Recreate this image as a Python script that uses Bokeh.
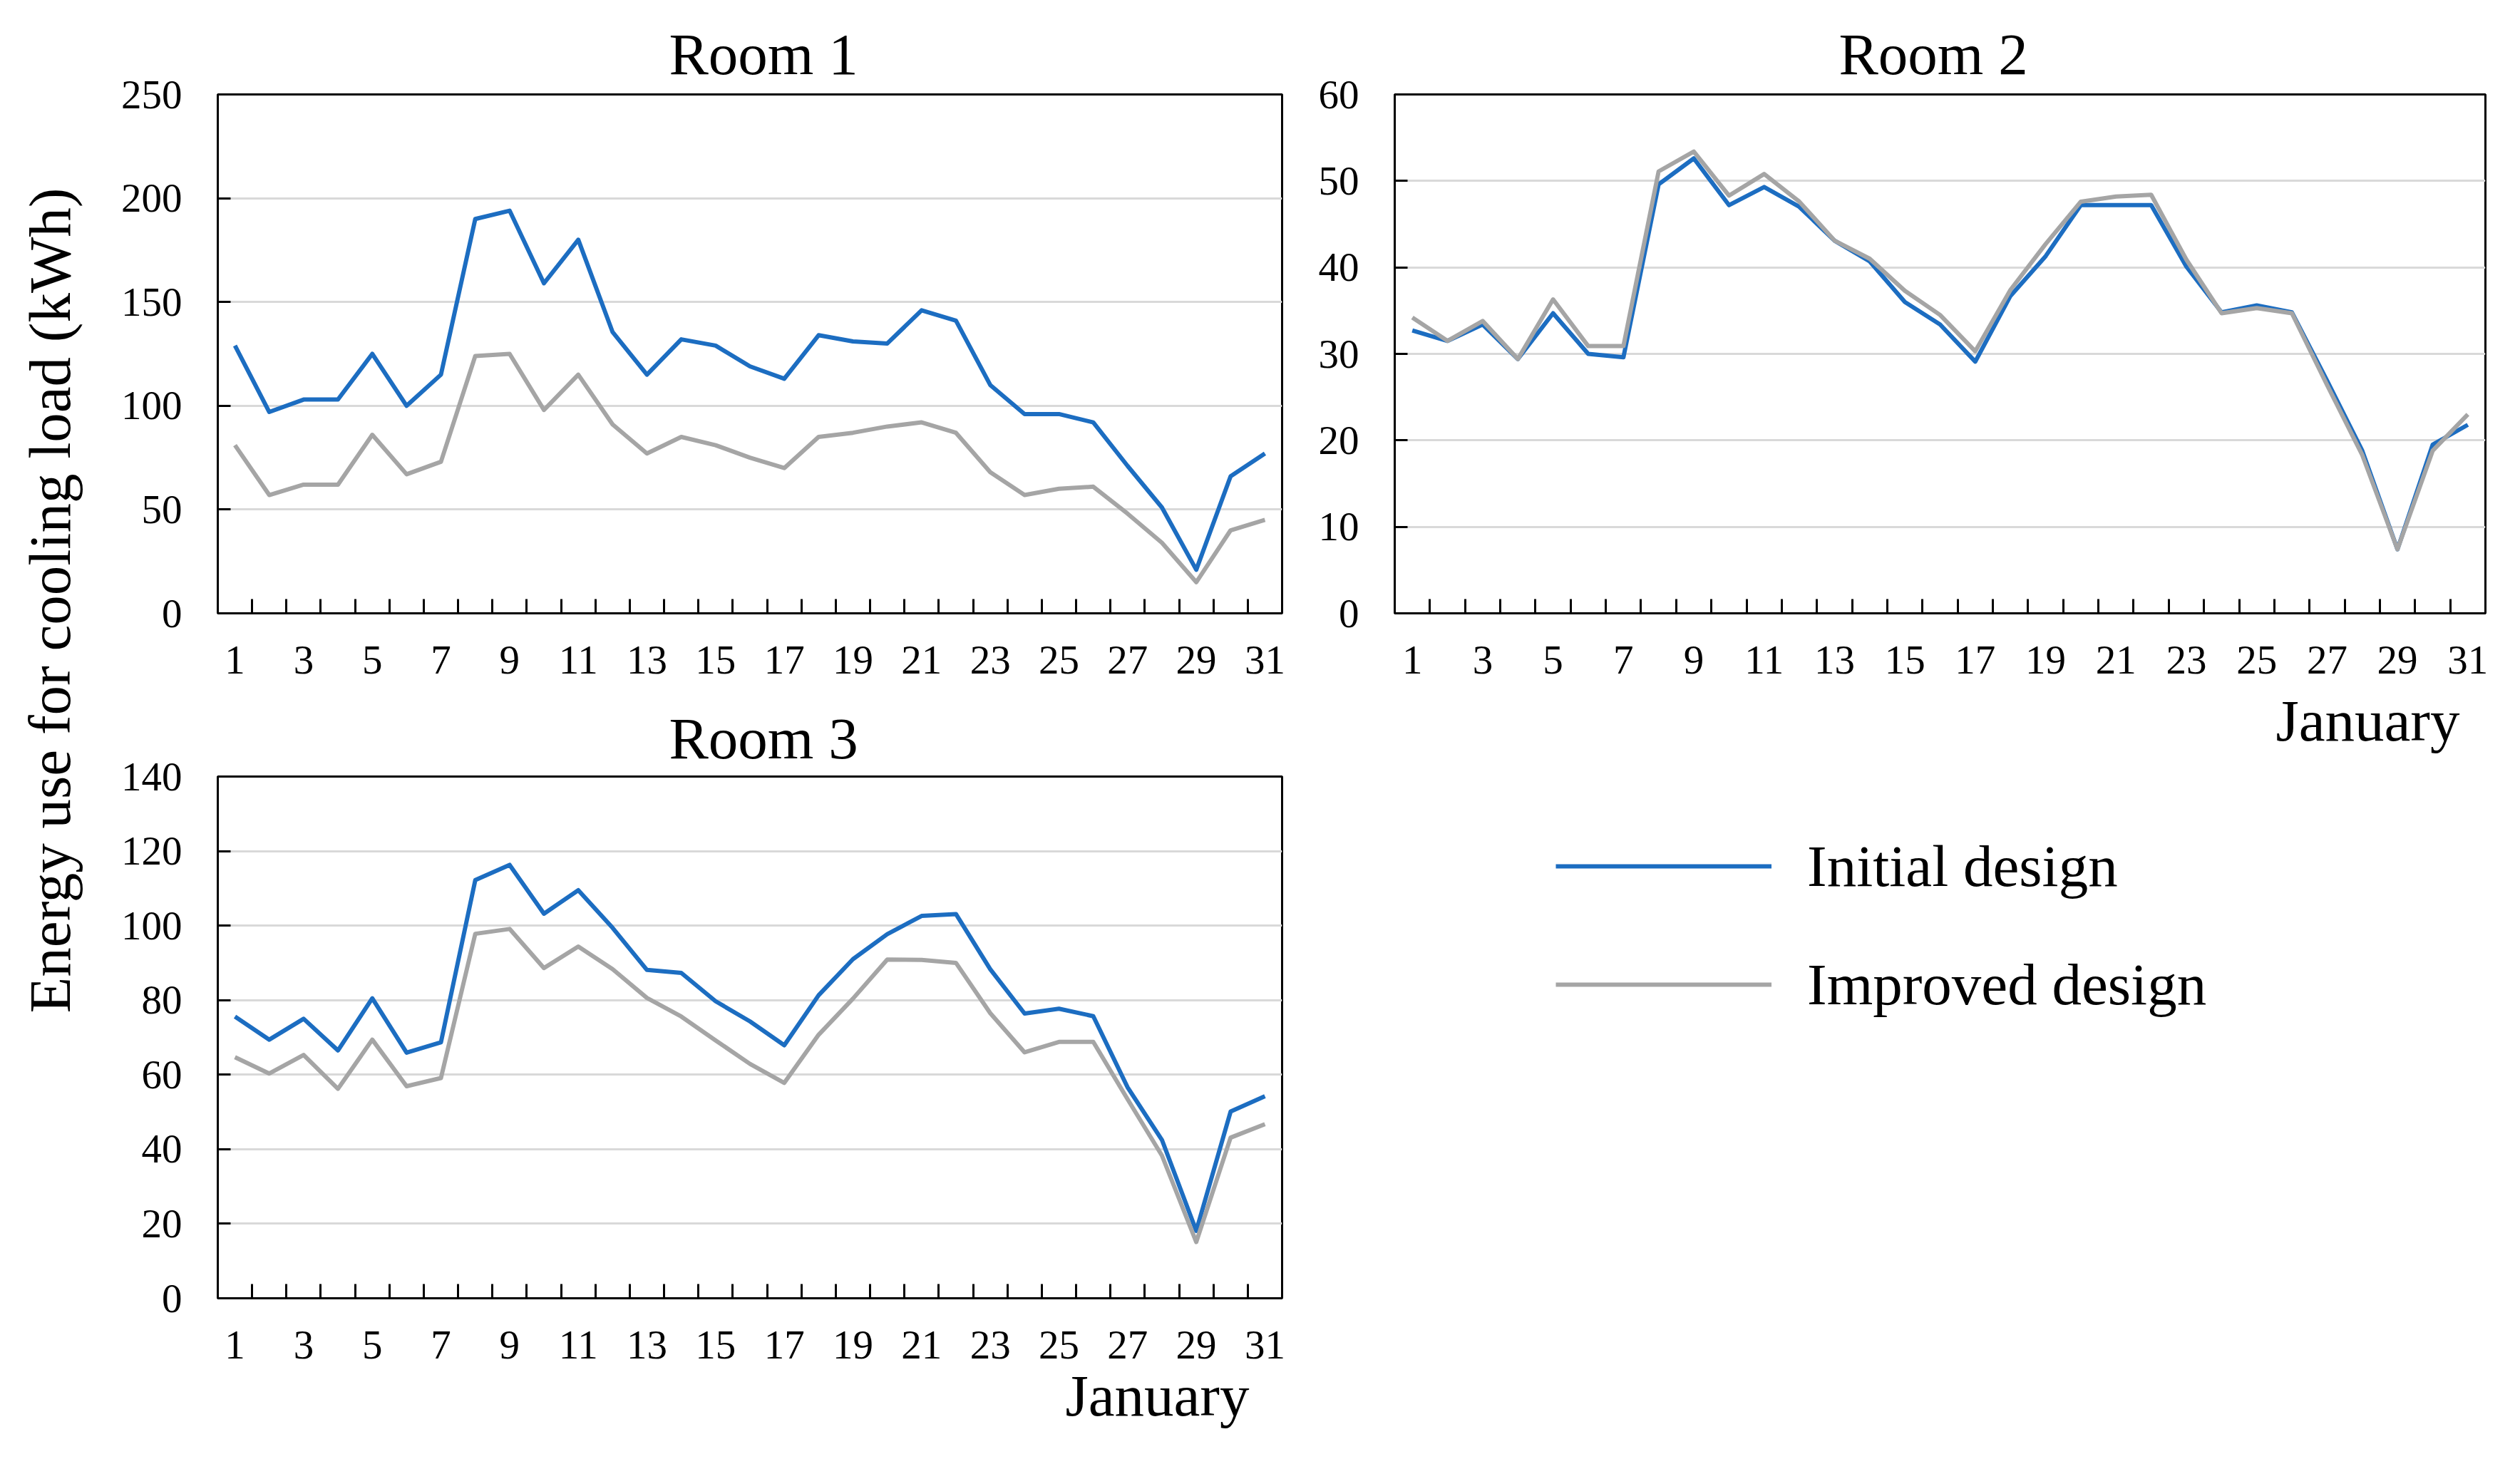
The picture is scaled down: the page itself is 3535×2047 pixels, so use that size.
from bokeh.plotting import figure
from bokeh.models import Range1d, FixedTicker, Title, Legend, LegendItem
from bokeh.layouts import row, column
from bokeh.embed import file_html
from bokeh.resources import INLINE

# ---------------- data ----------------
days = list(range(1, 32))
odd_day_ticks = list(range(1, 32, 2))
day_boundaries = [d + 0.5 for d in range(1, 31)]

room1_initial = [129, 97, 103, 103, 125, 100, 115, 190, 194, 159, 180, 135.5, 115, 132, 129,
                 119, 113, 134, 131, 130, 146, 141, 110, 96, 96, 92, 71, 51, 21, 66, 77]
room1_improved = [81, 57, 62, 62, 86, 67, 73, 124, 125, 98, 115, 91, 77, 85, 81,
                  75, 70, 85, 87, 90, 92, 87, 68, 57, 60, 61, 48, 34, 15, 40, 45]

room2_initial = [32.7, 31.5, 33.4, 29.4, 34.7, 30.0, 29.6, 49.6, 52.6, 47.2, 49.3, 47.0, 43.1, 40.7, 36.0,
                 33.4, 29.1, 36.7, 41.3, 47.2, 47.2, 47.2, 40.1, 34.8, 35.6, 34.8, 26.9, 18.8, 7.4, 19.5, 21.8]
room2_improved = [34.2, 31.5, 33.8, 29.4, 36.3, 30.9, 30.9, 51.1, 53.4, 48.3, 50.8, 47.6, 43.1, 41.0, 37.3,
                  34.5, 30.3, 37.4, 42.7, 47.6, 48.2, 48.4, 40.9, 34.7, 35.3, 34.7, 26.4, 18.3, 7.4, 18.8, 23.0]

room3_initial = [75.6, 69.4, 75.0, 66.5, 80.5, 65.9, 68.7, 112.2, 116.3, 103.2, 109.5, 99.4, 88.1, 87.3, 79.7,
                 74.3, 67.9, 81.3, 91.0, 97.7, 102.6, 103.1, 88.3, 76.4, 77.7, 75.7, 56.6, 42.5, 18.1, 50.1, 54.2]
room3_improved = [64.7, 60.3, 65.3, 56.2, 69.4, 56.9, 59.1, 97.8, 99.1, 88.6, 94.4, 88.3, 80.6, 75.6, 69.2,
                  62.9, 57.8, 70.7, 80.4, 90.9, 90.8, 90.0, 76.5, 66.0, 68.8, 68.8, 53.4, 38.3, 15.1, 43.1, 46.7]

room_titles = ["Room 1", "Room 2", "Room 3"]
series_labels = ["Initial design", "Improved design"]
x_axis_title = "January"
y_axis_title = "Energy use for cooling load (kWh)"

# ---------------- style ----------------
FONT = "Liberation Serif"
BLUE = "#1C6DC1"
GRAY = "#A5A5A5"
GRID = "#D9D9D9"
BIG = "83px"
TICK = "57px"
LW = 6


def make_room(title, y_max, y_step, initial, improved, width, height,
              left, right, top, bottom, title_offset, title_standoff=21,
              january_offset=None, january_standoff=0):
    p = figure(width=width, height=height,
               x_range=Range1d(0.5, 31.5), y_range=Range1d(0, y_max),
               output_backend="svg", toolbar_location=None,
               min_border_left=left, min_border_right=right,
               min_border_top=top, min_border_bottom=bottom)
    p.background_fill_color = "white"
    p.border_fill_color = "white"
    p.outline_line_color = "black"
    p.outline_line_width = 3
    p.outline_line_alpha = 1

    p.title.text = title
    p.title.align = "left"
    p.title.offset = title_offset
    p.title.text_font = FONT
    p.title.text_font_size = BIG
    p.title.text_font_style = "normal"
    p.title.text_color = "black"
    p.title.standoff = title_standoff

    xa = p.xaxis[0]
    xa.ticker = FixedTicker(ticks=odd_day_ticks, minor_ticks=day_boundaries)
    xa.major_tick_line_color = None
    xa.major_tick_in = 0
    xa.major_tick_out = 0
    xa.minor_tick_line_color = "black"
    xa.minor_tick_line_width = 3
    xa.minor_tick_in = 20
    xa.minor_tick_out = 0
    xa.axis_line_color = "black"
    xa.axis_line_width = 3
    xa.major_label_text_font = FONT
    xa.major_label_text_font_size = TICK
    xa.major_label_text_color = "black"
    xa.major_label_standoff = 46

    ya = p.yaxis[0]
    ya.ticker = FixedTicker(ticks=list(range(0, y_max + 1, y_step)))
    ya.major_tick_line_color = "black"
    ya.major_tick_line_width = 3
    ya.major_tick_in = 18
    ya.major_tick_out = 0
    ya.minor_tick_line_color = None
    ya.axis_line_color = "black"
    ya.axis_line_width = 3
    ya.major_label_text_font = FONT
    ya.major_label_text_font_size = TICK
    ya.major_label_text_color = "black"
    ya.major_label_standoff = 50

    p.xgrid.grid_line_color = None
    p.ygrid.grid_line_color = GRID
    p.ygrid.grid_line_width = 3

    p.line(days, initial, line_color=BLUE, line_width=LW, line_join="round")
    p.line(days, improved, line_color=GRAY, line_width=LW, line_join="round")

    if january_offset is not None:
        jt = Title(text=x_axis_title, align="right", offset=january_offset,
                   text_font=FONT, text_font_size=BIG, text_font_style="normal",
                   text_color="black", standoff=january_standoff)
        p.add_layout(jt, "below")
    return p


# column 1 : Room 1 / Room 3
P1_H = 132 + 728 + 113
P3_H = 116 + 732 + 200
p1 = make_room(room_titles[0], 250, 50, room1_initial, room1_improved,
               width=1655, height=P1_H, left=145, right=17, top=132, bottom=113,
               title_offset=633)
p3 = make_room(room_titles[2], 140, 20, room3_initial, room3_improved,
               width=1655, height=P3_H, left=145, right=17, top=116, bottom=200,
               title_offset=633, title_standoff=16, january_offset=46, january_standoff=2)

# column 2 : Room 2 / legend
P2_H = 132 + 728 + 230
p2 = make_room(room_titles[1], 60, 10, room2_initial, room2_improved,
               width=1691, height=P2_H, left=141, right=20, top=132, bottom=230,
               title_offset=623, january_offset=36, january_standoff=30)

total_h = P1_H + P3_H
P4_H = total_h - P2_H

# legend panel: proxy renderers lie outside this panel's ranges, only their styles are used
p4 = figure(width=1691, height=P4_H,
            x_range=Range1d(-2, -1), y_range=Range1d(-2, -1),
            x_axis_location=None, y_axis_location=None,
            output_backend="svg", toolbar_location=None,
            min_border_left=141, min_border_top=0, min_border_right=20, min_border_bottom=0)
p4.outline_line_color = None
p4.grid.grid_line_color = None
p4.background_fill_color = "white"
p4.border_fill_color = "white"
r_init = p4.line(days, room2_initial, line_color=BLUE, line_width=LW)
r_impr = p4.line(days, room2_improved, line_color=GRAY, line_width=LW)
legend = Legend(items=[LegendItem(label=series_labels[0], renderers=[r_init]),
                       LegendItem(label=series_labels[1], renderers=[r_impr])],
                location=(226, P4_H - 341), orientation="vertical")
legend.margin = 0
legend.padding = 0
legend.spacing = 66
legend.glyph_width = 303
legend.glyph_height = 100
legend.label_height = 100
legend.label_standoff = 50
legend.label_text_font = FONT
legend.label_text_font_size = BIG
legend.label_text_color = "black"
legend.border_line_color = None
legend.background_fill_alpha = 0
p4.add_layout(legend, "center")

# shared y-axis title
py = figure(width=160, height=total_h, x_range=Range1d(0, 1), y_range=Range1d(0, 1),
            x_axis_location=None, output_backend="svg", toolbar_location=None,
            min_border_left=115, min_border_right=0, min_border_top=0,
            min_border_bottom=total_h - 1684)
py.outline_line_color = None
py.grid.grid_line_color = None
py.background_fill_color = "white"
py.border_fill_color = "white"
pya = py.yaxis[0]
pya.ticker = FixedTicker(ticks=[])
pya.axis_line_color = None
pya.major_tick_line_color = None
pya.minor_tick_line_color = None
pya.axis_label = y_axis_title
pya.axis_label_standoff = 0
pya.axis_label_text_font = FONT
pya.axis_label_text_font_size = "83px"
pya.axis_label_text_font_style = "normal"
pya.axis_label_text_color = "black"

layout = row(py, column(p1, p3), column(p2, p4))

open("out.html", "w").write(file_html(layout, INLINE))
